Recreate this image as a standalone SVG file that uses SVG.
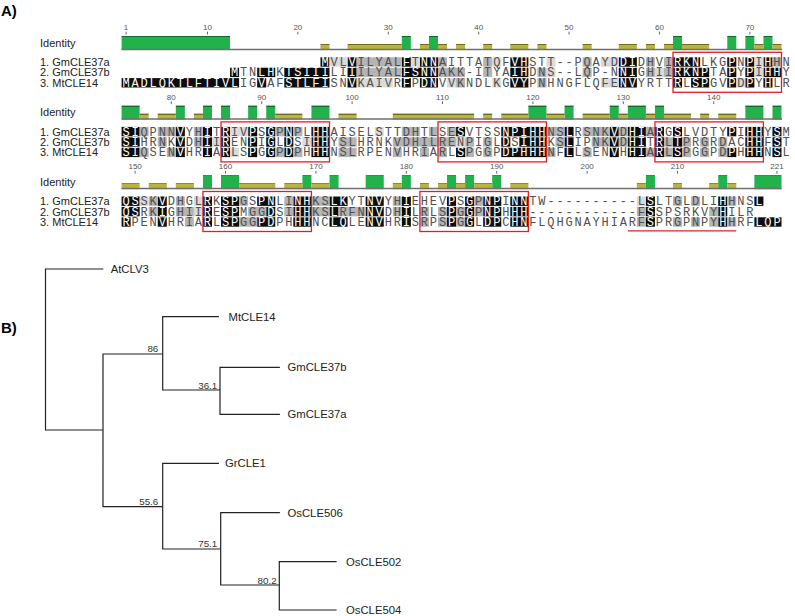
<svg xmlns="http://www.w3.org/2000/svg" width="795" height="616" viewBox="0 0 795 616">
<style>
.seq{font-family:"Liberation Mono","DejaVu Sans Mono",monospace;font-size:12px;letter-spacing:1.8388px;white-space:pre}
.sq{fill:#505050}
.sw{fill:#ffffff}
.k{fill:#0d0d0d}
.g{fill:#b4b4b4}
.l{fill:#dadada}
.lab{font-family:"Liberation Sans",Arial,sans-serif;font-size:11px;fill:#222}
.rul{font-family:"Liberation Sans",Arial,sans-serif;font-size:8px;fill:#555;text-anchor:middle}
.tick{stroke:#666;stroke-width:1;fill:none}
.gr{fill:url(#gG)}
.ol{fill:url(#gO)}
.base{stroke:#6f6f6f;stroke-width:1.5;fill:none}
.box{fill:none;stroke:#e0201f;stroke-width:1.3}
.br{fill:none;stroke:#222;stroke-width:1.2;stroke-linecap:square}
.leaf{font-family:"Liberation Sans",Arial,sans-serif;font-size:11.3px;fill:#222}
.bs{font-family:"Liberation Sans",Arial,sans-serif;font-size:9.8px;fill:#333;text-anchor:end}
.hd{font-family:"Liberation Sans",Arial,sans-serif;font-size:15px;font-weight:bold;fill:#000}
</style>
<defs>
<linearGradient id="gG" x1="0" y1="0" x2="0" y2="1"><stop offset="0" stop-color="#106b2c"/><stop offset="0.08" stop-color="#106b2c"/><stop offset="0.08" stop-color="#21b24b"/><stop offset="1" stop-color="#21b24b"/></linearGradient>
<linearGradient id="gO" x1="0" y1="0" x2="0" y2="1"><stop offset="0" stop-color="#6e6b1c"/><stop offset="0.17" stop-color="#6e6b1c"/><stop offset="0.17" stop-color="#b8b43c"/><stop offset="1" stop-color="#b8b43c"/></linearGradient>
</defs>
<rect width="795" height="616" fill="#fff"/>
<text class="hd" x="1" y="16">A)</text>
<text class="hd" x="1" y="333">B)</text>

<g id="alignment">
<!-- BLOCK 1 -->
<g id="block1">
<g class="rul"><text x="126.10" y="30.3">1</text><text x="207.46" y="30.3">10</text><text x="297.86" y="30.3">20</text><text x="388.26" y="30.3">30</text><text x="478.66" y="30.3">40</text><text x="569.06" y="30.3">50</text><text x="659.46" y="30.3">60</text><text x="749.86" y="30.3">70</text></g>
<path class="tick" d="M126.1 31.7V34.5M207.46 31.7V34.5M297.86 31.7V34.5M388.26 31.7V34.5M478.66 31.7V34.5M569.06 31.7V34.5M659.46 31.7V34.5M749.86 31.7V34.5"/>
<text class="lab" x="40" y="46.8">Identity</text>
<g class="gr"><rect x="121.58" y="36" width="108.48" height="14"/><rect x="401.82" y="36" width="9.04" height="14"/><rect x="428.94" y="36" width="9.04" height="14"/><rect x="673.02" y="36" width="9.04" height="14"/><rect x="727.26" y="36" width="9.04" height="14"/><rect x="745.34" y="36" width="9.04" height="14"/><rect x="763.42" y="36" width="9.04" height="14"/></g>
<g class="ol"><rect x="320.46" y="44" width="9.04" height="6"/><rect x="347.58" y="44" width="54.24" height="6"/><rect x="419.90" y="44" width="9.04" height="6"/><rect x="437.98" y="44" width="9.04" height="6"/><rect x="456.06" y="44" width="9.04" height="6"/><rect x="483.18" y="44" width="9.04" height="6"/><rect x="510.30" y="44" width="18.08" height="6"/><rect x="537.42" y="44" width="9.04" height="6"/><rect x="582.62" y="44" width="9.04" height="6"/><rect x="618.78" y="44" width="18.08" height="6"/><rect x="645.90" y="44" width="9.04" height="6"/><rect x="663.98" y="44" width="9.04" height="6"/><rect x="682.06" y="44" width="27.12" height="6"/><rect x="754.38" y="44" width="9.04" height="6"/><rect x="772.46" y="44" width="9.04" height="6"/></g>
<path class="base" d="M121.58 49.4H782"/>
<text class="lab" x="40" y="66">1. GmCLE37a</text>
<text class="lab" x="40" y="76.4">2. GmCLE37b</text>
<text class="lab" x="40" y="86.8">3. MtCLE14</text>
<g class="k"><rect x="320.46" y="57.3" width="9.04" height="9.4"/><rect x="347.58" y="57.3" width="9.04" height="9.4"/><rect x="401.82" y="57.3" width="9.04" height="9.4"/><rect x="419.90" y="57.3" width="18.08" height="9.4"/><rect x="510.30" y="57.3" width="18.08" height="9.4"/><rect x="618.78" y="57.3" width="18.08" height="9.4"/><rect x="673.02" y="57.3" width="27.12" height="9.4"/><rect x="727.26" y="57.3" width="9.04" height="9.4"/><rect x="745.34" y="57.3" width="9.04" height="9.4"/><rect x="763.42" y="57.3" width="9.04" height="9.4"/></g>
<g class="g"><rect x="356.62" y="57.3" width="45.2" height="9.4"/><rect x="437.98" y="57.3" width="9.04" height="9.4"/><rect x="483.18" y="57.3" width="9.04" height="9.4"/><rect x="582.62" y="57.3" width="9.04" height="9.4"/><rect x="645.90" y="57.3" width="9.04" height="9.4"/><rect x="663.98" y="57.3" width="9.04" height="9.4"/><rect x="772.46" y="57.3" width="9.04" height="9.4"/></g>
<g class="l"><rect x="329.50" y="57.3" width="18.08" height="9.4"/><rect x="410.86" y="57.3" width="9.04" height="9.4"/><rect x="492.22" y="57.3" width="9.04" height="9.4"/><rect x="546.46" y="57.3" width="9.04" height="9.4"/><rect x="600.70" y="57.3" width="18.08" height="9.4"/><rect x="754.38" y="57.3" width="9.04" height="9.4"/></g>
<g class="k"><rect x="230.06" y="67.7" width="9.04" height="9.4"/><rect x="257.18" y="67.7" width="18.08" height="9.4"/><rect x="284.30" y="67.7" width="45.2" height="9.4"/><rect x="347.58" y="67.7" width="9.04" height="9.4"/><rect x="401.82" y="67.7" width="36.16" height="9.4"/><rect x="510.30" y="67.7" width="18.08" height="9.4"/><rect x="618.78" y="67.7" width="18.08" height="9.4"/><rect x="673.02" y="67.7" width="36.16" height="9.4"/><rect x="727.26" y="67.7" width="9.04" height="9.4"/><rect x="745.34" y="67.7" width="9.04" height="9.4"/><rect x="763.42" y="67.7" width="18.08" height="9.4"/></g>
<g class="g"><rect x="356.62" y="67.7" width="45.2" height="9.4"/><rect x="437.98" y="67.7" width="27.12" height="9.4"/><rect x="483.18" y="67.7" width="9.04" height="9.4"/><rect x="537.42" y="67.7" width="9.04" height="9.4"/><rect x="582.62" y="67.7" width="9.04" height="9.4"/><rect x="645.90" y="67.7" width="9.04" height="9.4"/><rect x="663.98" y="67.7" width="9.04" height="9.4"/></g>
<g class="l"><rect x="546.46" y="67.7" width="9.04" height="9.4"/><rect x="654.94" y="67.7" width="9.04" height="9.4"/><rect x="754.38" y="67.7" width="9.04" height="9.4"/></g>
<g class="k"><rect x="121.58" y="78.1" width="117.52" height="9.4"/><rect x="257.18" y="78.1" width="9.04" height="9.4"/><rect x="284.30" y="78.1" width="45.2" height="9.4"/><rect x="347.58" y="78.1" width="9.04" height="9.4"/><rect x="401.82" y="78.1" width="9.04" height="9.4"/><rect x="419.90" y="78.1" width="18.08" height="9.4"/><rect x="510.30" y="78.1" width="18.08" height="9.4"/><rect x="618.78" y="78.1" width="18.08" height="9.4"/><rect x="673.02" y="78.1" width="9.04" height="9.4"/><rect x="691.10" y="78.1" width="18.08" height="9.4"/><rect x="727.26" y="78.1" width="9.04" height="9.4"/><rect x="745.34" y="78.1" width="9.04" height="9.4"/><rect x="763.42" y="78.1" width="9.04" height="9.4"/></g>
<g class="g"><rect x="456.06" y="78.1" width="9.04" height="9.4"/><rect x="537.42" y="78.1" width="9.04" height="9.4"/></g>
<g class="l"><rect x="356.62" y="78.1" width="36.16" height="9.4"/><rect x="447.02" y="78.1" width="9.04" height="9.4"/><rect x="492.22" y="78.1" width="9.04" height="9.4"/><rect x="600.70" y="78.1" width="18.08" height="9.4"/><rect x="736.30" y="78.1" width="9.04" height="9.4"/></g>
<text class="seq sq" xml:space="preserve" x="330.42" y="66">VL ILYAL T  AITTATQF  STT--PQAYD  DHVI   LKG N I HN</text>
<text class="seq sq" xml:space="preserve" x="240.02" y="76.4">TN  K     LI ILYAL    AKK-ITYA  DNS--LQP-N  GHII    TA Y I  Y</text>
<text class="seq sq" xml:space="preserve" x="240.02" y="86.8">IG AF     SN KAIVR P  VVKNDLKG  PNHNGFLQFE  YRTT L  GV D Y LR</text>
<text class="seq sw" y="66"><tspan x="321.38">M</tspan><tspan x="348.50">V</tspan><tspan x="402.74">F</tspan><tspan x="420.82">NN</tspan><tspan x="511.22">VH</tspan><tspan x="619.70">DI</tspan><tspan x="673.94">RKN</tspan><tspan x="728.18">P</tspan><tspan x="746.26">P</tspan><tspan x="764.34">H</tspan></text>
<text class="seq sw" y="76.4"><tspan x="230.98">M</tspan><tspan x="258.10">LH</tspan><tspan x="285.22">TSIII</tspan><tspan x="348.50">I</tspan><tspan x="402.74">FSNN</tspan><tspan x="511.22">IH</tspan><tspan x="619.70">NI</tspan><tspan x="673.94">RKNP</tspan><tspan x="728.18">P</tspan><tspan x="746.26">P</tspan><tspan x="764.34">HH</tspan></text>
<text class="seq sw" y="86.8"><tspan x="122.50">MADLQKTLFTIVL</tspan><tspan x="258.10">V</tspan><tspan x="285.22">STLFI</tspan><tspan x="348.50">V</tspan><tspan x="402.74">F</tspan><tspan x="420.82">DN</tspan><tspan x="511.22">VY</tspan><tspan x="619.70">NV</tspan><tspan x="673.94">R</tspan><tspan x="692.02">SP</tspan><tspan x="728.18">P</tspan><tspan x="746.26">P</tspan><tspan x="764.34">H</tspan></text>
<rect class="box" x="673.02" y="52.3" width="108.48" height="40"/>
</g>

<!-- BLOCK 2 -->
<g id="block2" transform="translate(0,69.6)">
<g class="rul"><text x="171.30" y="30.3">80</text><text x="261.70" y="30.3">90</text><text x="352.10" y="30.3">100</text><text x="442.50" y="30.3">110</text><text x="532.90" y="30.3">120</text><text x="623.30" y="30.3">130</text><text x="713.70" y="30.3">140</text></g>
<path class="tick" d="M171.3 31.7V34.5M261.7 31.7V34.5M352.1 31.7V34.5M442.5 31.7V34.5M532.9 31.7V34.5M623.3 31.7V34.5M713.7 31.7V34.5"/>
<text class="lab" x="40" y="46.8">Identity</text>
<g class="gr"><rect x="121.58" y="36" width="18.08" height="14"/><rect x="175.82" y="36" width="9.04" height="14"/><rect x="202.94" y="36" width="9.04" height="14"/><rect x="221.02" y="36" width="9.04" height="14"/><rect x="248.14" y="36" width="9.04" height="14"/><rect x="266.22" y="36" width="9.04" height="14"/><rect x="311.42" y="36" width="18.08" height="14"/><rect x="528.38" y="36" width="18.08" height="14"/><rect x="564.54" y="36" width="9.04" height="14"/><rect x="609.74" y="36" width="9.04" height="14"/><rect x="627.82" y="36" width="18.08" height="14"/><rect x="654.94" y="36" width="9.04" height="14"/><rect x="745.34" y="36" width="18.08" height="14"/><rect x="772.46" y="36" width="9.04" height="14"/></g>
<g class="ol"><rect x="139.66" y="44" width="9.04" height="6"/><rect x="157.74" y="44" width="18.08" height="6"/><rect x="193.90" y="44" width="9.04" height="6"/><rect x="275.26" y="44" width="27.12" height="6"/><rect x="338.54" y="44" width="18.08" height="6"/><rect x="392.78" y="44" width="81.36" height="6"/><rect x="483.18" y="44" width="9.04" height="6"/><rect x="501.26" y="44" width="27.12" height="6"/><rect x="546.46" y="44" width="18.08" height="6"/><rect x="582.62" y="44" width="27.12" height="6"/><rect x="618.78" y="44" width="9.04" height="6"/><rect x="645.90" y="44" width="9.04" height="6"/><rect x="663.98" y="44" width="27.12" height="6"/><rect x="700.14" y="44" width="9.04" height="6"/><rect x="718.22" y="44" width="18.08" height="6"/></g>
<path class="base" d="M121.58 49.4H782"/>
<text class="lab" x="40" y="66">1. GmCLE37a</text>
<text class="lab" x="40" y="76.4">2. GmCLE37b</text>
<text class="lab" x="40" y="86.8">3. MtCLE14</text>
<g class="k"><rect x="121.58" y="57.3" width="18.08" height="9.4"/><rect x="175.82" y="57.3" width="9.04" height="9.4"/><rect x="202.94" y="57.3" width="9.04" height="9.4"/><rect x="221.02" y="57.3" width="9.04" height="9.4"/><rect x="248.14" y="57.3" width="9.04" height="9.4"/><rect x="266.22" y="57.3" width="9.04" height="9.4"/><rect x="284.30" y="57.3" width="9.04" height="9.4"/><rect x="311.42" y="57.3" width="18.08" height="9.4"/><rect x="456.06" y="57.3" width="9.04" height="9.4"/><rect x="501.26" y="57.3" width="45.2" height="9.4"/><rect x="564.54" y="57.3" width="9.04" height="9.4"/><rect x="609.74" y="57.3" width="9.04" height="9.4"/><rect x="627.82" y="57.3" width="18.08" height="9.4"/><rect x="654.94" y="57.3" width="9.04" height="9.4"/><rect x="673.02" y="57.3" width="9.04" height="9.4"/><rect x="727.26" y="57.3" width="9.04" height="9.4"/><rect x="745.34" y="57.3" width="18.08" height="9.4"/><rect x="772.46" y="57.3" width="9.04" height="9.4"/></g>
<g class="g"><rect x="139.66" y="57.3" width="9.04" height="9.4"/><rect x="157.74" y="57.3" width="18.08" height="9.4"/><rect x="193.90" y="57.3" width="9.04" height="9.4"/><rect x="275.26" y="57.3" width="9.04" height="9.4"/><rect x="293.34" y="57.3" width="9.04" height="9.4"/><rect x="401.82" y="57.3" width="18.08" height="9.4"/><rect x="428.94" y="57.3" width="9.04" height="9.4"/><rect x="447.02" y="57.3" width="9.04" height="9.4"/><rect x="546.46" y="57.3" width="18.08" height="9.4"/><rect x="582.62" y="57.3" width="27.12" height="9.4"/><rect x="618.78" y="57.3" width="9.04" height="9.4"/><rect x="645.90" y="57.3" width="9.04" height="9.4"/></g>
<g class="l"><rect x="230.06" y="57.3" width="18.08" height="9.4"/><rect x="374.70" y="57.3" width="9.04" height="9.4"/></g>
<g class="k"><rect x="121.58" y="67.7" width="18.08" height="9.4"/><rect x="175.82" y="67.7" width="9.04" height="9.4"/><rect x="202.94" y="67.7" width="9.04" height="9.4"/><rect x="221.02" y="67.7" width="9.04" height="9.4"/><rect x="248.14" y="67.7" width="9.04" height="9.4"/><rect x="266.22" y="67.7" width="9.04" height="9.4"/><rect x="284.30" y="67.7" width="9.04" height="9.4"/><rect x="311.42" y="67.7" width="18.08" height="9.4"/><rect x="501.26" y="67.7" width="9.04" height="9.4"/><rect x="519.34" y="67.7" width="27.12" height="9.4"/><rect x="564.54" y="67.7" width="9.04" height="9.4"/><rect x="609.74" y="67.7" width="9.04" height="9.4"/><rect x="627.82" y="67.7" width="18.08" height="9.4"/><rect x="654.94" y="67.7" width="9.04" height="9.4"/><rect x="673.02" y="67.7" width="9.04" height="9.4"/><rect x="745.34" y="67.7" width="18.08" height="9.4"/><rect x="772.46" y="67.7" width="9.04" height="9.4"/></g>
<g class="g"><rect x="157.74" y="67.7" width="9.04" height="9.4"/><rect x="193.90" y="67.7" width="9.04" height="9.4"/><rect x="338.54" y="67.7" width="18.08" height="9.4"/><rect x="392.78" y="67.7" width="63.28" height="9.4"/><rect x="465.10" y="67.7" width="9.04" height="9.4"/><rect x="483.18" y="67.7" width="9.04" height="9.4"/><rect x="555.50" y="67.7" width="9.04" height="9.4"/><rect x="591.66" y="67.7" width="18.08" height="9.4"/><rect x="618.78" y="67.7" width="9.04" height="9.4"/><rect x="663.98" y="67.7" width="9.04" height="9.4"/><rect x="682.06" y="67.7" width="9.04" height="9.4"/><rect x="700.14" y="67.7" width="9.04" height="9.4"/><rect x="718.22" y="67.7" width="9.04" height="9.4"/></g>
<g class="l"><rect x="211.98" y="67.7" width="9.04" height="9.4"/><rect x="302.38" y="67.7" width="9.04" height="9.4"/><rect x="456.06" y="67.7" width="9.04" height="9.4"/></g>
<g class="k"><rect x="121.58" y="78.1" width="18.08" height="9.4"/><rect x="175.82" y="78.1" width="9.04" height="9.4"/><rect x="202.94" y="78.1" width="9.04" height="9.4"/><rect x="221.02" y="78.1" width="9.04" height="9.4"/><rect x="248.14" y="78.1" width="9.04" height="9.4"/><rect x="266.22" y="78.1" width="9.04" height="9.4"/><rect x="284.30" y="78.1" width="9.04" height="9.4"/><rect x="311.42" y="78.1" width="18.08" height="9.4"/><rect x="456.06" y="78.1" width="9.04" height="9.4"/><rect x="501.26" y="78.1" width="45.2" height="9.4"/><rect x="564.54" y="78.1" width="9.04" height="9.4"/><rect x="609.74" y="78.1" width="9.04" height="9.4"/><rect x="627.82" y="78.1" width="18.08" height="9.4"/><rect x="654.94" y="78.1" width="9.04" height="9.4"/><rect x="673.02" y="78.1" width="9.04" height="9.4"/><rect x="727.26" y="78.1" width="9.04" height="9.4"/><rect x="745.34" y="78.1" width="18.08" height="9.4"/><rect x="772.46" y="78.1" width="9.04" height="9.4"/></g>
<g class="g"><rect x="139.66" y="78.1" width="9.04" height="9.4"/><rect x="166.78" y="78.1" width="9.04" height="9.4"/><rect x="275.26" y="78.1" width="9.04" height="9.4"/><rect x="293.34" y="78.1" width="9.04" height="9.4"/><rect x="338.54" y="78.1" width="18.08" height="9.4"/><rect x="392.78" y="78.1" width="9.04" height="9.4"/><rect x="419.90" y="78.1" width="9.04" height="9.4"/><rect x="437.98" y="78.1" width="9.04" height="9.4"/><rect x="465.10" y="78.1" width="9.04" height="9.4"/><rect x="483.18" y="78.1" width="9.04" height="9.4"/><rect x="546.46" y="78.1" width="9.04" height="9.4"/><rect x="582.62" y="78.1" width="9.04" height="9.4"/><rect x="645.90" y="78.1" width="9.04" height="9.4"/><rect x="663.98" y="78.1" width="9.04" height="9.4"/><rect x="682.06" y="78.1" width="9.04" height="9.4"/><rect x="700.14" y="78.1" width="9.04" height="9.4"/><rect x="718.22" y="78.1" width="9.04" height="9.4"/></g>
<g class="l"><rect x="230.06" y="78.1" width="9.04" height="9.4"/></g>
<text class="seq sq" xml:space="preserve" x="140.58" y="66">QPNN YH T IV S P PL  AISELSTTDHTLSE VTSS     NS RSNK D  A G LVDTY I  Y M</text>
<text class="seq sq" xml:space="preserve" x="140.58" y="76.4">HRNK DH I EN I L SI  YSLHRNKVDHILRENPIGL S   KS IPNK D  T L PRGRDAC  F T</text>
<text class="seq sq" xml:space="preserve" x="140.58" y="86.8">QSEN HR A LS G P PH  NSLRPENVHRIARL PGGP     NF LSEN H  A L PGGPD H  N L</text>
<text class="seq sw" y="66"><tspan x="122.50">SI</tspan><tspan x="176.74">V</tspan><tspan x="203.86">I</tspan><tspan x="221.94">R</tspan><tspan x="249.06">P</tspan><tspan x="267.14">G</tspan><tspan x="285.22">N</tspan><tspan x="312.34">HH</tspan><tspan x="456.98">S</tspan><tspan x="502.18">NPIHH</tspan><tspan x="565.46">L</tspan><tspan x="610.66">V</tspan><tspan x="628.74">HI</tspan><tspan x="655.86">R</tspan><tspan x="673.94">S</tspan><tspan x="728.18">P</tspan><tspan x="746.26">HH</tspan><tspan x="773.38">S</tspan></text>
<text class="seq sw" y="76.4"><tspan x="122.50">SI</tspan><tspan x="176.74">V</tspan><tspan x="203.86">I</tspan><tspan x="221.94">R</tspan><tspan x="249.06">P</tspan><tspan x="267.14">G</tspan><tspan x="285.22">D</tspan><tspan x="312.34">HH</tspan><tspan x="502.18">D</tspan><tspan x="520.26">IHH</tspan><tspan x="565.46">L</tspan><tspan x="610.66">V</tspan><tspan x="628.74">HI</tspan><tspan x="655.86">R</tspan><tspan x="673.94">T</tspan><tspan x="746.26">HH</tspan><tspan x="773.38">S</tspan></text>
<text class="seq sw" y="86.8"><tspan x="122.50">SI</tspan><tspan x="176.74">V</tspan><tspan x="203.86">I</tspan><tspan x="221.94">R</tspan><tspan x="249.06">P</tspan><tspan x="267.14">G</tspan><tspan x="285.22">D</tspan><tspan x="312.34">HH</tspan><tspan x="456.98">S</tspan><tspan x="502.18">DPHHH</tspan><tspan x="565.46">L</tspan><tspan x="610.66">V</tspan><tspan x="628.74">HI</tspan><tspan x="655.86">R</tspan><tspan x="673.94">S</tspan><tspan x="728.18">P</tspan><tspan x="746.26">HH</tspan><tspan x="773.38">S</tspan></text>
<rect class="box" x="221.02" y="52.3" width="108.48" height="40"/>
<rect class="box" x="437.98" y="52.3" width="108.48" height="40"/>
<rect class="box" x="654.94" y="52.3" width="108.48" height="40"/>
</g>

<!-- BLOCK 3 -->
<g id="block3" transform="translate(0,139.2)">
<g class="rul"><text x="135.14" y="30.3">150</text><text x="225.54" y="30.3">160</text><text x="315.94" y="30.3">170</text><text x="406.34" y="30.3">180</text><text x="496.74" y="30.3">190</text><text x="587.14" y="30.3">200</text><text x="677.54" y="30.3">210</text><text x="776.98" y="30.3">221</text></g>
<path class="tick" d="M135.14 31.7V34.5M225.54 31.7V34.5M315.94 31.7V34.5M406.34 31.7V34.5M496.74 31.7V34.5M587.14 31.7V34.5M677.54 31.7V34.5M776.98 31.7V34.5"/>
<text class="lab" x="40" y="46.8">Identity</text>
<g class="gr"><rect x="202.94" y="36" width="9.04" height="14"/><rect x="221.02" y="36" width="18.08" height="14"/><rect x="302.38" y="36" width="9.04" height="14"/><rect x="329.50" y="36" width="9.04" height="14"/><rect x="365.66" y="36" width="18.08" height="14"/><rect x="401.82" y="36" width="9.04" height="14"/><rect x="447.02" y="36" width="9.04" height="14"/><rect x="465.10" y="36" width="9.04" height="14"/><rect x="492.22" y="36" width="9.04" height="14"/><rect x="645.90" y="36" width="9.04" height="14"/><rect x="718.22" y="36" width="9.04" height="14"/><rect x="754.38" y="36" width="27.12" height="14"/></g>
<g class="ol"><rect x="121.58" y="44" width="18.08" height="6"/><rect x="148.70" y="44" width="18.08" height="6"/><rect x="175.82" y="44" width="18.08" height="6"/><rect x="239.10" y="44" width="36.16" height="6"/><rect x="284.30" y="44" width="18.08" height="6"/><rect x="311.42" y="44" width="18.08" height="6"/><rect x="392.78" y="44" width="9.04" height="6"/><rect x="419.90" y="44" width="9.04" height="6"/><rect x="437.98" y="44" width="9.04" height="6"/><rect x="456.06" y="44" width="9.04" height="6"/><rect x="474.14" y="44" width="18.08" height="6"/><rect x="510.30" y="44" width="18.08" height="6"/><rect x="636.86" y="44" width="9.04" height="6"/><rect x="673.02" y="44" width="9.04" height="6"/><rect x="709.18" y="44" width="9.04" height="6"/><rect x="727.26" y="44" width="9.04" height="6"/></g>
<path class="base" d="M121.58 49.4H781.5"/>
<text class="lab" x="40" y="66">1. GmCLE37a</text>
<text class="lab" x="40" y="76.4">2. GmCLE37b</text>
<text class="lab" x="40" y="86.8">3. MtCLE14</text>
<g class="k"><rect x="121.58" y="57.3" width="18.08" height="9.4"/><rect x="157.74" y="57.3" width="9.04" height="9.4"/><rect x="202.94" y="57.3" width="9.04" height="9.4"/><rect x="221.02" y="57.3" width="18.08" height="9.4"/><rect x="257.18" y="57.3" width="18.08" height="9.4"/><rect x="293.34" y="57.3" width="18.08" height="9.4"/><rect x="329.50" y="57.3" width="18.08" height="9.4"/><rect x="365.66" y="57.3" width="18.08" height="9.4"/><rect x="401.82" y="57.3" width="9.04" height="9.4"/><rect x="447.02" y="57.3" width="9.04" height="9.4"/><rect x="465.10" y="57.3" width="9.04" height="9.4"/><rect x="483.18" y="57.3" width="18.08" height="9.4"/><rect x="510.30" y="57.3" width="18.08" height="9.4"/><rect x="645.90" y="57.3" width="9.04" height="9.4"/><rect x="718.22" y="57.3" width="9.04" height="9.4"/><rect x="754.38" y="57.3" width="9.04" height="9.4"/></g>
<g class="g"><rect x="148.70" y="57.3" width="9.04" height="9.4"/><rect x="175.82" y="57.3" width="9.04" height="9.4"/><rect x="239.10" y="57.3" width="9.04" height="9.4"/><rect x="284.30" y="57.3" width="9.04" height="9.4"/><rect x="311.42" y="57.3" width="18.08" height="9.4"/><rect x="392.78" y="57.3" width="9.04" height="9.4"/><rect x="474.14" y="57.3" width="9.04" height="9.4"/><rect x="673.02" y="57.3" width="9.04" height="9.4"/><rect x="691.10" y="57.3" width="9.04" height="9.4"/><rect x="727.26" y="57.3" width="9.04" height="9.4"/></g>
<g class="l"><rect x="139.66" y="57.3" width="9.04" height="9.4"/><rect x="193.90" y="57.3" width="9.04" height="9.4"/><rect x="636.86" y="57.3" width="9.04" height="9.4"/></g>
<g class="k"><rect x="121.58" y="67.7" width="18.08" height="9.4"/><rect x="157.74" y="67.7" width="9.04" height="9.4"/><rect x="202.94" y="67.7" width="9.04" height="9.4"/><rect x="221.02" y="67.7" width="18.08" height="9.4"/><rect x="266.22" y="67.7" width="9.04" height="9.4"/><rect x="293.34" y="67.7" width="18.08" height="9.4"/><rect x="329.50" y="67.7" width="9.04" height="9.4"/><rect x="365.66" y="67.7" width="18.08" height="9.4"/><rect x="401.82" y="67.7" width="9.04" height="9.4"/><rect x="447.02" y="67.7" width="9.04" height="9.4"/><rect x="465.10" y="67.7" width="9.04" height="9.4"/><rect x="483.18" y="67.7" width="18.08" height="9.4"/><rect x="510.30" y="67.7" width="18.08" height="9.4"/><rect x="645.90" y="67.7" width="9.04" height="9.4"/><rect x="718.22" y="67.7" width="9.04" height="9.4"/></g>
<g class="g"><rect x="148.70" y="67.7" width="9.04" height="9.4"/><rect x="175.82" y="67.7" width="18.08" height="9.4"/><rect x="248.14" y="67.7" width="18.08" height="9.4"/><rect x="284.30" y="67.7" width="9.04" height="9.4"/><rect x="311.42" y="67.7" width="18.08" height="9.4"/><rect x="338.54" y="67.7" width="27.12" height="9.4"/><rect x="392.78" y="67.7" width="9.04" height="9.4"/><rect x="419.90" y="67.7" width="9.04" height="9.4"/><rect x="437.98" y="67.7" width="9.04" height="9.4"/><rect x="456.06" y="67.7" width="9.04" height="9.4"/><rect x="474.14" y="67.7" width="9.04" height="9.4"/><rect x="636.86" y="67.7" width="9.04" height="9.4"/><rect x="709.18" y="67.7" width="9.04" height="9.4"/></g>
<g class="l"><rect x="193.90" y="67.7" width="9.04" height="9.4"/></g>
<g class="k"><rect x="121.58" y="78.1" width="9.04" height="9.4"/><rect x="157.74" y="78.1" width="9.04" height="9.4"/><rect x="202.94" y="78.1" width="9.04" height="9.4"/><rect x="221.02" y="78.1" width="18.08" height="9.4"/><rect x="257.18" y="78.1" width="18.08" height="9.4"/><rect x="293.34" y="78.1" width="18.08" height="9.4"/><rect x="329.50" y="78.1" width="18.08" height="9.4"/><rect x="365.66" y="78.1" width="18.08" height="9.4"/><rect x="401.82" y="78.1" width="9.04" height="9.4"/><rect x="447.02" y="78.1" width="9.04" height="9.4"/><rect x="465.10" y="78.1" width="9.04" height="9.4"/><rect x="483.18" y="78.1" width="18.08" height="9.4"/><rect x="510.30" y="78.1" width="18.08" height="9.4"/><rect x="645.90" y="78.1" width="9.04" height="9.4"/><rect x="718.22" y="78.1" width="9.04" height="9.4"/><rect x="754.38" y="78.1" width="27.12" height="9.4"/></g>
<g class="g"><rect x="184.86" y="78.1" width="9.04" height="9.4"/><rect x="239.10" y="78.1" width="18.08" height="9.4"/><rect x="419.90" y="78.1" width="9.04" height="9.4"/><rect x="437.98" y="78.1" width="9.04" height="9.4"/><rect x="456.06" y="78.1" width="9.04" height="9.4"/><rect x="636.86" y="78.1" width="9.04" height="9.4"/><rect x="673.02" y="78.1" width="9.04" height="9.4"/><rect x="691.10" y="78.1" width="9.04" height="9.4"/><rect x="709.18" y="78.1" width="9.04" height="9.4"/><rect x="727.26" y="78.1" width="9.04" height="9.4"/></g>
<text class="seq sq" xml:space="preserve" x="140.58" y="66">SK DHGL K  GS  LI  KS  YT  YH EHEV S P  I  TW----------L LTGLDLI HNS</text>
<text class="seq sq" xml:space="preserve" x="140.58" y="76.4">RK GHII E  MGG SI  KS RFN  DH LRLS G P  H  ------------F SPSRKVY ILR</text>
<text class="seq sq" xml:space="preserve" x="131.54" y="86.8">PEN HRIA L  GG  PH  NC  LE  HR SRPS G L  C  FLQHGNAYHIARF PRGPNPY HRF</text>
<text class="seq sw" y="66"><tspan x="122.50">QS</tspan><tspan x="158.66">V</tspan><tspan x="203.86">R</tspan><tspan x="221.94">SP</tspan><tspan x="258.10">PN</tspan><tspan x="294.26">NH</tspan><tspan x="330.42">LK</tspan><tspan x="366.58">NV</tspan><tspan x="402.74">I</tspan><tspan x="447.94">P</tspan><tspan x="466.02">G</tspan><tspan x="484.10">NP</tspan><tspan x="511.22">NN</tspan><tspan x="646.82">S</tspan><tspan x="719.14">H</tspan><tspan x="755.30">L</tspan></text>
<text class="seq sw" y="76.4"><tspan x="122.50">QS</tspan><tspan x="158.66">I</tspan><tspan x="203.86">R</tspan><tspan x="221.94">SP</tspan><tspan x="267.14">D</tspan><tspan x="294.26">HH</tspan><tspan x="330.42">L</tspan><tspan x="366.58">NV</tspan><tspan x="402.74">I</tspan><tspan x="447.94">P</tspan><tspan x="466.02">G</tspan><tspan x="484.10">NP</tspan><tspan x="511.22">HH</tspan><tspan x="646.82">S</tspan><tspan x="719.14">H</tspan></text>
<text class="seq sw" y="86.8"><tspan x="122.50">R</tspan><tspan x="158.66">V</tspan><tspan x="203.86">R</tspan><tspan x="221.94">SP</tspan><tspan x="258.10">PD</tspan><tspan x="294.26">HH</tspan><tspan x="330.42">LQ</tspan><tspan x="366.58">NV</tspan><tspan x="402.74">I</tspan><tspan x="447.94">P</tspan><tspan x="466.02">G</tspan><tspan x="484.10">DP</tspan><tspan x="511.22">HN</tspan><tspan x="646.82">S</tspan><tspan x="719.14">H</tspan><tspan x="755.30">LQP</tspan></text>
<rect class="box" x="202.94" y="52.3" width="108.48" height="40"/>
<rect class="box" x="419.90" y="52.3" width="108.48" height="40"/>
<path class="box" d="M627.82 91.6H736.3"/>
</g>
</g>

<!-- TREE -->
<g id="tree">
<g id="connectors">
<path class="br" d="M45.5 269V430M45.5 269H102.7M45.5 430H103M103 354V506.7M103 354H162.7M162.7 316.7V390M162.7 316.7H218.3M162.7 390H220M220 367.3V414.3M220 367.3H279.3M220 414.3H279.3M103 506.7H162.7M162.7 463.3V549M162.7 463.3H218.3M162.7 549H220.7M220.7 512.7V585M220.7 512.7H279.3M220.7 585H279.3M279.3 561.7V610M279.3 561.7H336M279.3 610H336"/>
<g id="supports">
<text class="bs" x="158.3" y="351.8">86</text>
<text class="bs" x="217.3" y="388.5">36.1</text>
<text class="bs" x="158.3" y="505.2">55.6</text>
<text class="bs" x="217.3" y="546.8">75.1</text>
<text class="bs" x="276.7" y="583.5">80.2</text>
</g>
</g>
<g id="node-AtCLV3"><text class="leaf" x="110.7" y="273">AtCLV3</text></g>
<g id="node-MtCLE14"><text class="leaf" x="228.5" y="320.7">MtCLE14</text></g>
<g id="node-GmCLE37b"><text class="leaf" x="287.5" y="371.3">GmCLE37b</text></g>
<g id="node-GmCLE37a"><text class="leaf" x="287.5" y="418.3">GmCLE37a</text></g>
<g id="node-GrCLE1"><text class="leaf" x="225" y="467.3">GrCLE1</text></g>
<g id="node-OsCLE506"><text class="leaf" x="287.5" y="516.7">OsCLE506</text></g>
<g id="node-OsCLE502"><text class="leaf" x="346" y="565.7">OsCLE502</text></g>
<g id="node-OsCLE504"><text class="leaf" x="346" y="614">OsCLE504</text></g>
</g>
</svg>
